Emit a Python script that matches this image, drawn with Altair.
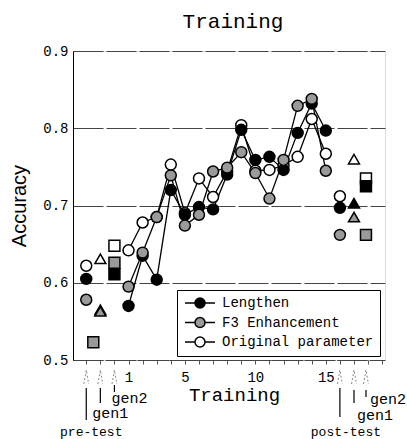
import altair as alt
import pandas as pd

MONO = "Liberation Mono"
SANS = "Liberation Sans"

series_names = ["Lengthen", "F3 Enhancement", "Original parameter"]
series_fills = ["black", "#9a9a9a", "white"]

# training sessions 1..15
train_x = list(range(1, 16))
lengthen = [0.570, 0.635, 0.604, 0.720, 0.688, 0.698, 0.695, 0.740, 0.798,
            0.759, 0.763, 0.746, 0.794, 0.832, 0.797]
f3 = [0.595, 0.639, 0.685, 0.739, 0.674, 0.688, 0.744, 0.749, 0.769,
      0.742, 0.709, 0.759, 0.829, 0.838, 0.745]
original = [0.642, 0.678, 0.685, 0.753, 0.690, 0.735, 0.711, 0.744, 0.804,
            0.745, 0.746, 0.752, 0.763, 0.812, 0.767]

# tests (pre-test, gen1, gen2, post-test, gen1, gen2)
test_labels = ["pre-test", "gen1", "gen2", "post-test", "gen1", "gen2"]
test_x = [-2, -1, 0, 16, 17, 17.85]
test_shapes = ["circle", "triangle-up", "square", "circle", "triangle-up", "square"]
lengthen_test = [0.605, 0.565, 0.611, 0.697, 0.703, 0.725]
f3_test = [0.578, 0.563, 0.626, 0.662, 0.685, 0.662]
original_test = [0.622, 0.631, 0.648, 0.712, 0.760, 0.735]

# stray F3 square between pre-test and gen1
extra_x = [-1.5]
extra_f3 = [0.523]

x_labels = [1, 5, 10, 15]
y_ticks = [0.5, 0.6, 0.7, 0.8, 0.9]

# ---- build tables
train_rows = []
for name, vals in (("Original parameter", original), ("Lengthen", lengthen), ("F3 Enhancement", f3)):
    for x, v in zip(train_x, vals):
        train_rows.append({"x": x, "acc": v, "series": name, "shape": "circle"})
train_df = pd.DataFrame(train_rows)

point_rows = list(train_rows)
for name, vals in (("Original parameter", original_test), ("Lengthen", lengthen_test), ("F3 Enhancement", f3_test)):
    for x, v, s in zip(test_x, vals, test_shapes):
        point_rows.append({"x": x, "acc": v, "series": name, "shape": s})
for x, v in zip(extra_x, extra_f3):
    point_rows.append({"x": x, "acc": v, "series": "F3 Enhancement", "shape": "square"})
point_df = pd.DataFrame(point_rows)

xscale = alt.Scale(domain=[-2.94, 19.2], nice=False, zero=False)
yscale = alt.Scale(domain=[0.5, 0.9], nice=False, zero=False)

label_test = "indexof(%s, datum.value) >= 0 ? datum.label : ''" % str(x_labels)

x_axis = alt.Axis(values=list(range(-2, 20)), labelExpr=label_test, labelOverlap=False,
                  labelFont=MONO, labelFontSize=14, labelColor="black",
                  labelPadding=6, tickSize=4, tickColor="#555",
                  domainColor="#444", domainDash=[6, 2], grid=False,
                  titleFont=MONO, titleFontSize=19, titleFontWeight="normal",
                  titleColor="black", titlePadding=1, titleX=161,
                  labelFlush=False)
y_axis = alt.Axis(values=y_ticks, format=".1f",
                  labelFont=MONO, labelFontSize=14, labelColor="black",
                  labelPadding=5, tickSize=0, domainColor="black",
                  grid=True, gridColor="#444", gridDash=[30, 3], gridWidth=1,
                  titleFont=SANS, titleFontSize=20, titleFontWeight="normal",
                  titleColor="black", titlePadding=13)

x_enc = alt.X("x:Q", scale=xscale, title="Training", axis=x_axis)
y_enc = alt.Y("acc:Q", scale=yscale, title="Accuracy", axis=y_axis)

lines = alt.Chart(train_df).mark_line(color="black", strokeWidth=1.3).encode(
    x=x_enc, y=y_enc, detail="series:N"
)

# line-with-circle legend symbol (unit circle radius 1 = half of the symbol size)
legend_symbol = ("M-3,0L-1,0M1,0L3,0"
                 "M-1,0A1,1 0 1,1 1,0A1,1 0 1,1 -1,0Z")

points = alt.Chart(point_df).mark_point(
    filled=True, stroke="black", strokeWidth=1.5, opacity=1, size=120
).encode(
    x=x_enc,
    y=alt.Y("acc:Q", scale=yscale),
    fill=alt.Fill("series:N", scale=alt.Scale(domain=series_names, range=series_fills),
                  legend=alt.Legend(title=None, orient="none", legendX=104, legendY=239,
                                    symbolType=legend_symbol, symbolSize=100,
                                    symbolOffset=10,
                                    symbolStrokeColor="black", symbolStrokeWidth=1.5,
                                    labelFont=MONO, labelFontSize=14, labelColor="black",
                                    labelOffset=15, rowPadding=3.5, padding=6,
                                    strokeColor="black",
                                    fillColor="white", labelLimit=300)),
    shape=alt.Shape("shape:N", scale=alt.Scale(domain=["circle", "triangle-up", "square"],
                                               range=["circle", "triangle-up", "square"]),
                    legend=None),
)

# ---- annotations below the axis (pre-test / gen1 / gen2, post-test / gen1 / gen2)
ann_df = pd.DataFrame({"x": test_x, "label": test_labels})
arrow_path = "M-0.35,1L0,-1L0.35,1"
arrows = alt.Chart(ann_df).mark_point(
    shape=arrow_path, filled=False, stroke="#888", strokeWidth=1, strokeDash=[2, 2],
    size=196, opacity=1
).encode(x=x_enc, y=alt.value(326))

line_spec = [(337, 369), (337, 352), (334, 341), (337, 366), (339, 352), (339, 346)]
text_spec = [(5, 381, 13, "center"), (-8, 362, 15, "left"), (-3, 347, 15, "left"),
             (6, 381, 13, "center"), (3, 364, 15, "left"), (4, 348, 15, "left")]
ann_layers = []
for i in range(len(test_x)):
    sub = ann_df.iloc[[i]]
    y1, y2 = line_spec[i]
    ann_layers.append(
        alt.Chart(sub).mark_rule(color="black", strokeWidth=1.2).encode(
            x=x_enc, y=alt.value(y1), y2=alt.value(y2))
    )
    dx, ty, fs, al = text_spec[i]
    ann_layers.append(
        alt.Chart(sub).mark_text(font=MONO, fontSize=fs, color="black", align=al,
                                 baseline="middle", dx=dx).encode(
            x=x_enc, y=alt.value(ty), text="label:N")
    )

chart = alt.layer(lines, points, arrows, *ann_layers).properties(
    width=312, height=309,
    title=alt.TitleParams("Training", font=MONO, fontSize=21, fontWeight="normal",
                          color="black", anchor="middle", dx=4, dy=22, offset=17,
                          baseline="alphabetic"),
    autosize=alt.AutoSizeParams(type="none"),
    padding={"left": 73, "top": 51, "right": 22, "bottom": 79},
).configure_view(stroke="#666", strokeWidth=1).configure_legend(
    strokeDash=[4, 2]
).configure(background="white")

chart.save("out.html", embed_options={"renderer": "svg", "actions": False})
